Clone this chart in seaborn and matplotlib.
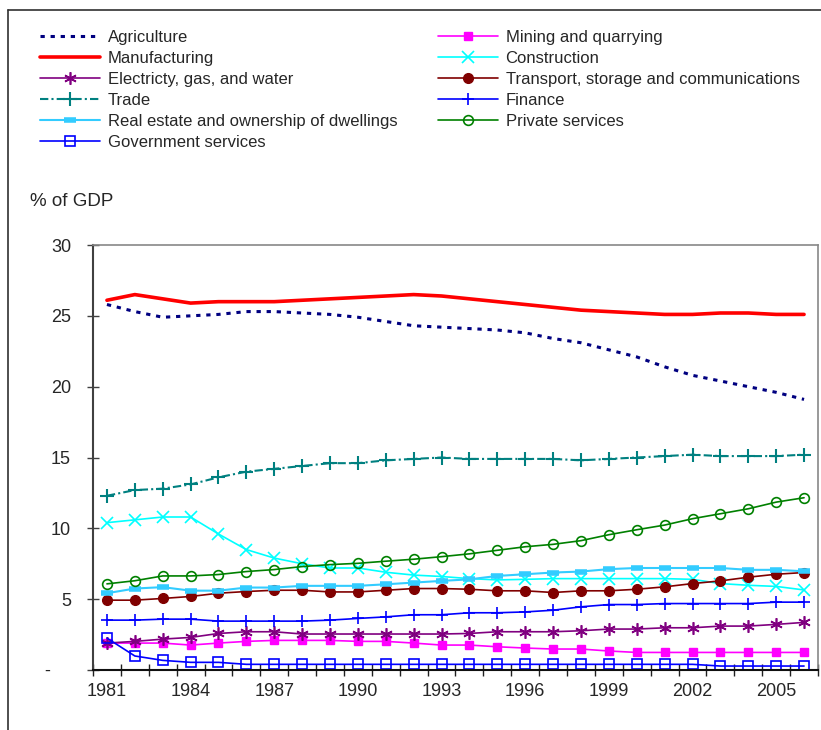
import matplotlib
matplotlib.use("Agg")
import matplotlib.pyplot as plt
from matplotlib.lines import Line2D
import seaborn as sns

# Share of GDP by sector, 1981-2006
years = list(range(1981, 2007))

agriculture = [25.8, 25.3, 24.9, 25.0, 25.1, 25.3, 25.3, 25.2, 25.1, 24.9, 24.6, 24.3, 24.2,
               24.1, 24.0, 23.8, 23.4, 23.1, 22.6, 22.1, 21.4, 20.8, 20.4, 20.0, 19.6, 19.1]
mining = [1.9, 1.9, 1.9, 1.76, 1.9, 2.02, 2.09, 2.09, 2.09, 2.02, 2.02, 1.9, 1.76,
          1.76, 1.64, 1.55, 1.48, 1.48, 1.34, 1.24, 1.24, 1.24, 1.24, 1.24, 1.24, 1.24]
manufacturing = [26.1, 26.5, 26.2, 25.9, 26.0, 26.0, 26.0, 26.1, 26.2, 26.3, 26.4, 26.5, 26.4,
                 26.2, 26.0, 25.8, 25.6, 25.4, 25.3, 25.2, 25.1, 25.1, 25.2, 25.2, 25.1, 25.1]
construction = [10.4, 10.6, 10.8, 10.8, 9.6, 8.5, 7.9, 7.5, 7.2, 7.2, 6.9, 6.7, 6.6,
                6.45, 6.36, 6.4, 6.45, 6.45, 6.45, 6.45, 6.45, 6.4, 6.1, 5.98, 5.9, 5.65]
electricity = [1.9, 2.02, 2.18, 2.3, 2.58, 2.7, 2.7, 2.54, 2.54, 2.54, 2.54, 2.54, 2.54,
               2.58, 2.7, 2.7, 2.7, 2.77, 2.89, 2.89, 2.98, 2.98, 3.1, 3.1, 3.22, 3.36]
transport = [4.93, 4.93, 5.05, 5.19, 5.42, 5.54, 5.63, 5.63, 5.51, 5.51, 5.63, 5.75, 5.75,
             5.7, 5.59, 5.59, 5.47, 5.59, 5.59, 5.7, 5.87, 6.1, 6.29, 6.55, 6.76, 6.88]
trade = [12.3, 12.7, 12.8, 13.1, 13.6, 14.0, 14.2, 14.4, 14.6, 14.6, 14.8, 14.9, 15.0,
         14.9, 14.9, 14.9, 14.9, 14.8, 14.9, 15.0, 15.1, 15.2, 15.1, 15.1, 15.1, 15.2]
finance = [3.52, 3.52, 3.59, 3.59, 3.45, 3.45, 3.45, 3.45, 3.52, 3.64, 3.75, 3.9, 3.9,
           4.04, 4.04, 4.1, 4.22, 4.46, 4.62, 4.62, 4.69, 4.69, 4.69, 4.69, 4.79, 4.79]
real_estate = [5.42, 5.75, 5.85, 5.6, 5.6, 5.82, 5.82, 5.94, 5.94, 5.94, 6.05, 6.17, 6.29,
               6.4, 6.64, 6.76, 6.88, 6.95, 7.12, 7.2, 7.2, 7.2, 7.2, 7.07, 7.07, 6.97]
private_services = [6.08, 6.3, 6.64, 6.64, 6.74, 6.95, 7.09, 7.3, 7.44, 7.53, 7.68, 7.82, 8.0,
                    8.2, 8.45, 8.7, 8.87, 9.13, 9.55, 9.9, 10.23, 10.68, 11.03, 11.38, 11.85, 12.16]
government = [2.25, 0.99, 0.68, 0.54, 0.54, 0.4, 0.4, 0.4, 0.4, 0.4, 0.4, 0.4, 0.4,
              0.4, 0.4, 0.4, 0.4, 0.4, 0.4, 0.4, 0.4, 0.4, 0.28, 0.28, 0.28, 0.28]

ytick_values = [0, 5, 10, 15, 20, 25, 30]
ytick_labels = ["-    ", "5", "10", "15", "20", "25", "30"]
xtick_years = list(range(1981, 2006, 3))

sns.set_theme(style="white")
plt.rcParams['font.family'] = ['Liberation Sans', 'DejaVu Sans']

fig = plt.figure(figsize=(8.21, 7.30), dpi=100)
ax = fig.add_axes([93 / 821, 60 / 730, 725 / 821, 425 / 730])

# series, label, style
series = [
    (agriculture, "Agriculture",
     dict(color="#000080", lw=2.2, linestyle=(0, (1.4, 1.9)))),
    (mining, "Mining and quarrying",
     dict(color="#ff00ff", lw=1.2, marker="s", ms=6, mfc="#ff00ff", mec="#ff00ff", mew=1)),
    (manufacturing, "Manufacturing",
     dict(color="#ff0000", lw=2.6)),
    (construction, "Construction",
     dict(color="#00ffff", lw=1.2, marker="x", ms=8, mec="#00ffff", mew=1.2)),
    (electricity, "Electricty, gas, and water",
     dict(color="#800080", lw=1.2, marker=(6, 2, 0), ms=9, mec="#800080", mew=1.2)),
    (transport, "Transport, storage and communications",
     dict(color="#800000", lw=1.2, marker="o", ms=7, mfc="#800000", mec="#800000", mew=1)),
    (trade, "Trade",
     dict(color="#008080", lw=1.5, linestyle=(0, (4, 1.5, 1, 1.5)), marker="+", ms=10,
          mec="#008080", mew=1.5)),
    (finance, "Finance",
     dict(color="#0000ff", lw=1.2, marker="+", ms=9, mec="#0000ff", mew=1.2)),
    (real_estate, "Real estate and ownership of dwellings",
     dict(color="#33ccff", lw=1.5, marker="_", ms=8, mec="#33ccff", mew=4)),
    (private_services, "Private services",
     dict(color="#008000", lw=1.2, marker="o", ms=7, mfc="none", mec="#008000", mew=1.2)),
    (government, "Government services",
     dict(color="#0000ff", lw=1.2, marker="s", ms=6.5, mfc="none", mec="#0000ff", mew=1.2)),
]

handles = {}
for values, label, style in series:
    sns.lineplot(x=years, y=values, ax=ax, label=label, legend=False, **style)
    handles[label] = ax.get_lines()[-1]

ax.set_xlim(1980.5, 2006.5)
ax.set_ylim(0, 30)
ax.set_yticks(ytick_values)
ax.set_yticklabels(ytick_labels)
ax.set_xticks(xtick_years)
ax.set_xticklabels([str(y) for y in xtick_years])
ax.set_xticks([y + 0.5 for y in range(1980, 2007)], minor=True)

ax.tick_params(axis="y", which="major", direction="inout", length=8.6, width=1,
               color="#404040", pad=11.5, labelsize=13, left=True)
ax.tick_params(axis="x", which="major", length=0, pad=9, labelsize=13, bottom=True)
ax.tick_params(axis="x", which="minor", direction="inout", length=8, width=1,
               color="#202020", bottom=True)

for side in ["top", "right"]:
    ax.spines[side].set_color("#888888")
    ax.spines[side].set_linewidth(1.2)
ax.spines["left"].set_color("#404040")
ax.spines["left"].set_linewidth(1.5)
ax.spines["bottom"].set_color("#101010")
ax.spines["bottom"].set_linewidth(1.5)
ax.set_xlabel("")
ax.set_ylabel("")

fig.text(30 / 821, 1 - 202 / 730, "% of GDP", fontsize=13.5, va="center", ha="left")

left_col = ["Agriculture", "Manufacturing", "Electricty, gas, and water", "Trade",
            "Real estate and ownership of dwellings", "Government services"]
right_col = ["Mining and quarrying", "Construction", "Transport, storage and communications",
             "Finance", "Private services"]

for col, x0 in [(left_col, 40), (right_col, 438)]:
    fig.legend([handles[l] for l in col], col, loc="upper left",
               bbox_to_anchor=(x0 / 821, 1 - 30 / 730), frameon=False,
               borderpad=0, borderaxespad=0, handlelength=3.6, handletextpad=0.45,
               labelspacing=0.36, fontsize=12)

# outer frame around chart area
fig.add_artist(Line2D([8 / 821, 8 / 821], [0, 1 - 10 / 730], color="#303030", lw=1.2,
                      transform=fig.transFigure))
fig.add_artist(Line2D([8 / 821, 1], [1 - 10 / 730, 1 - 10 / 730], color="#303030", lw=1.2,
                      transform=fig.transFigure))

fig.savefig("out.png", dpi=100)
